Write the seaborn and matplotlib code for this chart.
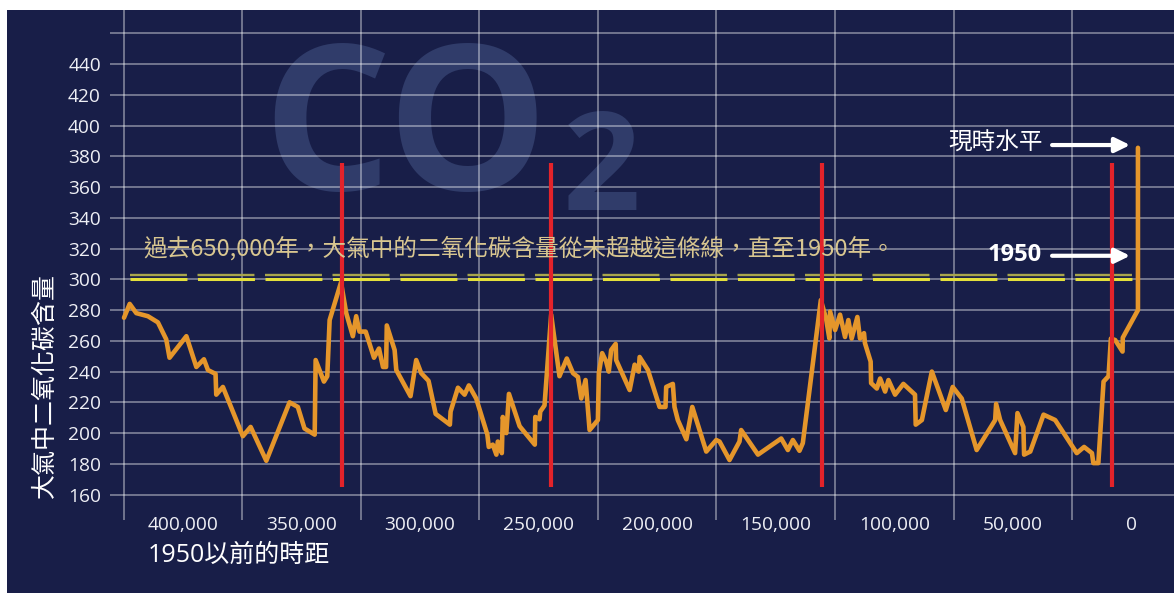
import pandas as pd
import matplotlib.pyplot as plt
import seaborn as sns
from matplotlib.patches import Rectangle

# CO2 record (years before 1950, ppm)
years = [424800, 422400, 419600, 414700, 410500, 407000, 405600, 398500, 394300, 391100,
         389400, 386200, 385900, 383100, 374700, 371400, 364800, 355000, 351500, 348700,
         344400, 344000, 340500, 339100, 338100, 333300, 331100, 328300, 326900, 325500,
         322900, 319400, 317300, 315600, 314300, 314000, 310700, 310000, 304000, 301600,
         299500, 296400, 293400, 287400, 287100, 284000, 281200, 279400, 276300, 271600,
         271000, 269300, 267800, 267200, 265500, 265100, 263600, 262500, 258000, 251600,
         251400, 249600, 249300, 247500, 244700, 241200, 238100, 235500, 233400, 232000,
         230200, 228500, 225000, 224600, 223200, 221500, 220400, 219400, 217500, 217300,
         211600, 209500, 207800, 207400, 203900, 199000, 196500, 196200, 193400, 192700,
         191300, 187700, 185200, 179300, 175100, 173700, 169500, 165300, 164600, 157500,
         147700, 144900, 142800, 140000, 138600, 131000, 128800, 127400, 127100, 125000,
         122900, 120800, 119400, 118000, 115600, 114500, 112800, 112400, 110000, 109800,
         107400, 106000, 103900, 102500, 99700, 96200, 91300, 91000, 88400, 84200,
         78300, 75400, 71600, 65300, 57500, 57100, 55400, 49100, 48100, 45600,
         45300, 42700, 37100, 32200, 23100, 20000, 16700, 16100, 14000, 11800,
         9700, 8700, 6900, 3800, 3700, -2700, -2700]
co2 = [275, 284, 278, 276, 272, 261, 249, 263, 243, 248,
       241, 238.5, 225, 230, 198, 204, 182, 220, 217, 203,
       199, 247.5, 233.5, 237, 273.5, 298, 278, 263, 276, 266,
       266, 249, 255, 243, 243, 270, 254, 241, 224, 247.5,
       239, 234, 212.5, 205.5, 214, 229.5, 225, 231, 222.5, 199,
       191, 192.5, 186, 194.5, 187, 210.5, 200, 225.5, 204.5, 192.5,
       210.5, 209, 214, 218, 277, 237, 248.5, 239, 236.5, 222.5,
       234.5, 202, 208.5, 239, 252, 246.5, 240, 254, 258, 247.5,
       228, 244.5, 240, 249.5, 241, 217, 217, 230, 232, 217,
       208.5, 196, 217, 188, 195.5, 194.5, 182.5, 194.5, 202, 186,
       196.5, 189, 195.5, 188.5, 193.5, 286.5, 274.5, 261.5, 279, 267,
       277, 262.5, 273.5, 261.5, 275.5, 261.5, 265, 258.5, 246.5, 232.5,
       229, 235.5, 227, 234.5, 225, 232, 225, 205.5, 208.5, 240,
       215, 230, 222.5, 189, 208.5, 219, 208.5, 187, 213, 204,
       186, 188, 212, 208.5, 187, 191, 187, 180.5, 180.5, 233.5,
       237, 261.5, 260.5, 253, 262, 280, 385.5]

peak_years = [333000, 244900, 130600, 8100]
limit_levels = [300.5, 303]
x_ticks = [400000, 350000, 300000, 250000, 200000, 150000, 100000, 50000, 0]
x_tick_labels = ["400,000", "350,000", "300,000", "250,000", "200,000",
                 "150,000", "100,000", "50,000", "0"]
x_grid = [425000, 375000, 325000, 275000, 225000, 175000, 125000, 75000, 25000]
y_ticks = [160, 180, 200, 220, 240, 260, 280, 300, 320, 340, 360, 380, 400, 420, 440, 460]
y_tick_labels = [str(v) for v in y_ticks[:-1]] + [""]

note = "過去650,000年，大氣中的二氧化碳含量從未超越這條線，直至1950年。"
y_title = "大氣中二氧化碳含量"
x_title = "1950以前的時距"

navy = "#181e48"
sns.set_style("dark")
plt.rcParams["font.family"] = ["Open Sans", "Noto Sans CJK TC", "DejaVu Sans"]
plt.rcParams["lines.scale_dashes"] = False

fig = plt.figure(figsize=(11.74, 5.93), dpi=100, facecolor="white")
fig.patches.append(Rectangle((7 / 1174, 0), 1, 583 / 593, transform=fig.transFigure,
                             facecolor=navy, edgecolor="none", zorder=-10))
ax = fig.add_axes([110 / 1174, 73 / 593, 1 - 110 / 1174, 510 / 593])
ax.set_facecolor(navy)
ax.set_axisbelow(True)

df = pd.DataFrame({"years": years, "co2": co2})
sns.lineplot(data=df, x="years", y="co2", sort=False, estimator=None,
             color="#e5962b", lw=3.3, ax=ax, zorder=3)

# the 650,000-year ceiling, drawn as a doubled dashed line
ax.plot([422200, 0], [limit_levels[0]] * 2, color="#e4e03c", lw=2.2,
        linestyle=(0, (41, 7.6)), zorder=2)
ax.plot([422200, 0], [limit_levels[1]] * 2, color="#a9a64c", lw=1.7,
        linestyle=(0, (41, 7.6)), zorder=2)

ax.vlines(peak_years, 165, 375.5, color="#e3232a", lw=3, zorder=4)

ax.set_xlim(430700, -17900)
ax.set_ylim(143.5, 475.1)
ax.set_xticks(x_ticks)
ax.set_xticklabels(x_tick_labels)
ax.set_xticks(x_grid, minor=True)
ax.set_yticks(y_ticks)
ax.set_yticklabels(y_tick_labels)
ax.xaxis.grid(False, which="major")
ax.xaxis.grid(True, which="minor", color="white", alpha=0.45, lw=1.2)
ax.yaxis.grid(True, color="white", alpha=0.45, lw=1.2)
ax.tick_params(which="both", length=0, colors="#eeeff5", labelsize=13.8)
ax.tick_params(axis="x", pad=-3)
ax.tick_params(axis="y", pad=6.5)
ax.set_xlabel("")
ax.set_ylabel("")
for s in ax.spines.values():
    s.set_visible(False)

# CO2 watermark
ax.text(262 / 1174, 403 / 593, "CO", transform=fig.transFigure, fontsize=146,
        fontweight="bold", color="#303c6a", ha="left", va="baseline", zorder=0.2)
ax.text(563 / 1174, 383 / 593, "2", transform=fig.transFigure, fontsize=98,
        fontweight="bold", color="#303c6a", ha="left", va="baseline", zorder=0.2)

ax.text(416800, 320.4, note, color="#d8c690", fontsize=17, ha="left", va="center",
        family=["Noto Sans CJK TC", "DejaVu Sans"], zorder=5)

arrow = dict(arrowstyle="-|>,head_length=0.45,head_width=0.22", color="white",
             lw=3, mutation_scale=20, shrinkA=0, shrinkB=0)
ax.annotate("", xy=(600, 387.3), xytext=(33500, 387.3), arrowprops=arrow, zorder=5)
ax.annotate("", xy=(600, 315.3), xytext=(33500, 315.3), arrowprops=arrow, zorder=5)
ax.text(37300, 388.6, "現時水平", color="white", fontsize=17, ha="right", va="center",
        family=["Noto Sans CJK TC", "DejaVu Sans"], zorder=5)
ax.text(37900, 315.8, "1950", color="white", fontsize=17, fontweight="bold",
        ha="right", va="center", zorder=5)

fig.text(45 / 1174, 208 / 593, y_title, rotation=90, color="white", fontsize=18,
         ha="center", va="center", family=["Noto Sans CJK TC", "DejaVu Sans"])
fig.text(148 / 1174, 38 / 593, x_title, color="white", fontsize=18,
         ha="left", va="center")

fig.savefig("out.png", dpi=100, facecolor="white")
